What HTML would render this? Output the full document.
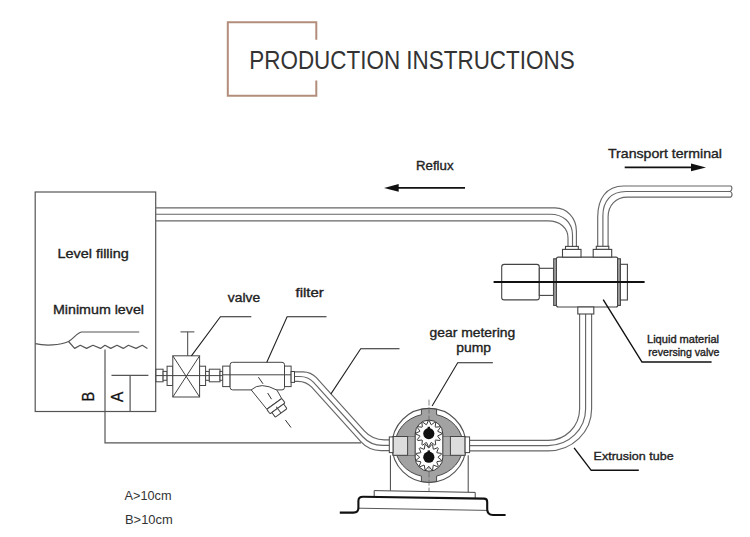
<!DOCTYPE html>
<html><head><meta charset="utf-8"><title>Production Instructions</title>
<style>
html,body{margin:0;padding:0;background:#fff;width:750px;height:537px;overflow:hidden}
svg{display:block}
text{font-family:"Liberation Sans",sans-serif}
</style></head>
<body>
<svg width="750" height="537" viewBox="0 0 750 537">
<rect width="750" height="537" fill="#fff"/>
<!-- title bracket -->
<path d="M316.3,39.8 V22.3 H227.8 V95.7 H316.3 V80.4" fill="none" stroke="#b38d7b" stroke-width="2"/>
<text x="249.3" y="69.3" font-size="25" fill="#333" textLength="325.3" lengthAdjust="spacingAndGlyphs">PRODUCTION INSTRUCTIONS</text>

<!-- labels -->
<g fill="#222" stroke="#222" stroke-width="0.35">
<text x="416" y="170.1" font-size="12.5" textLength="37.5" lengthAdjust="spacingAndGlyphs">Reflux</text>
<text x="608" y="158.3" font-size="13.3" textLength="114" lengthAdjust="spacingAndGlyphs">Transport terminal</text>
<text x="57.5" y="257.7" font-size="13" textLength="71.3" lengthAdjust="spacingAndGlyphs">Level filling</text>
<text x="53" y="313.5" font-size="13.5" textLength="91" lengthAdjust="spacingAndGlyphs">Minimum level</text>
<text x="227.8" y="301.7" font-size="12.5" textLength="32.3" lengthAdjust="spacingAndGlyphs">valve</text>
<text x="295.5" y="297.3" font-size="12.5" textLength="28.3" lengthAdjust="spacingAndGlyphs">filter</text>
<text x="429.6" y="337" font-size="12.5" textLength="85.6" lengthAdjust="spacingAndGlyphs">gear metering</text>
<text x="456.2" y="352.3" font-size="12.5" textLength="34.8" lengthAdjust="spacingAndGlyphs">pump</text>
<text x="647" y="343.3" font-size="10.3" textLength="72" lengthAdjust="spacingAndGlyphs">Liquid material</text>
<text x="648.3" y="356" font-size="10.3" textLength="71.2" lengthAdjust="spacingAndGlyphs">reversing valve</text>
<text x="593.6" y="460.4" font-size="11.7" textLength="80" lengthAdjust="spacingAndGlyphs">Extrusion tube</text>
<text x="124.5" y="499.6" font-size="12.8" textLength="47" lengthAdjust="spacingAndGlyphs" fill="#333" stroke="none">A&gt;10cm</text>
<text x="125" y="523.6" font-size="12.8" textLength="47.7" lengthAdjust="spacingAndGlyphs" fill="#333" stroke="none">B&gt;10cm</text>
<text transform="translate(94.3,401.6) rotate(-90) scale(0.9,1)" font-size="16.2" fill="#111" stroke="#111" stroke-width="0.3">B</text>
<text transform="translate(122.5,401.9) rotate(-90) scale(0.92,1)" font-size="16.8" fill="#111" stroke="#111" stroke-width="0.3">A</text>
</g>

<!-- arrows -->
<g stroke="#111" stroke-width="1.8" fill="#111">
<line x1="397" y1="187.9" x2="465" y2="187.9"/>
<path d="M384,187.9 L398.7,184 L398.7,191.8 Z" stroke="none"/>
<line x1="624.7" y1="167.4" x2="693" y2="167.4"/>
<path d="M706,167.4 L691,163.6 L691,171.3 Z" stroke="none"/>
</g>

<!-- tank -->
<g fill="none" stroke="#555" stroke-width="1.2">
<rect x="35.2" y="192" width="120.5" height="219.5"/>
<path d="M35.2,343.7 C45,346 60,345.5 68.6,341.5 C74,338 77,333 81.5,332 H139.2"/>
<path d="M68.6,341.5 L74.6,348.4 L80.3,345.3 L86.6,348.4 L92.9,345.3 L100.5,348.4 L105,345.3 L110.7,348.4 L117,345.3 L123.3,348.4 L128.4,345.3 L136,348.4 L142.3,345.3 L147.4,348.4" stroke-linejoin="round"/>
<path d="M105,349.5 V442.8 H361"/>
<path d="M111.5,375.4 H148.4 M130.1,375.4 V411.5"/>
</g>

<!-- top pipe from tank to valve -->
<g fill="none" stroke="#666" stroke-width="1.15">
<path d="M155.7,207.9 H555 C567,207.9 576.4,218 576.4,231 V246.4"/>
<path d="M155.7,214.2 H550 C563,214.2 572.5,222 572.5,235 V246.4"/>
<path d="M155.7,220.9 H548 C560,220.9 568,228 568,238 V246.4"/>
<!-- transport terminal pipe -->
<path d="M597.7,246.2 V217 C597.7,199 606,186 623.7,186 H731"/>
<path d="M602.9,246.2 V215.7 C602.9,201 611,191.5 626,191.5 H730"/>
<path d="M608.1,246.2 V217 C608.1,205 616,197.1 627.4,197.1 H731"/>
<path d="M731,186 C732.4,187.6 732.2,189.9 730.3,191.4 C732.2,192.9 732.4,195.2 731,197.1"/>
<!-- pipe valve bottom to pump -->
<path d="M579.6,314 V409 A31.5,31.5 0 0 1 548,440.4 H470"/>
<path d="M585.6,314 V409 A37.5,36.6 0 0 1 548,445.6 H470"/>
<path d="M591.6,314 V409 A43.6,41.9 0 0 1 548,450.9 H470"/>
<!-- filter to pump pipe -->
<path d="M294.5,371.8 H303 Q311,371.8 316.4,377.7 L364.3,430.9 Q372.3,439.8 384.3,439.8 H389.3"/>
<path d="M294.5,376.5 H300 Q308.2,376.5 313.6,382.4 L362.5,436.5 Q370.6,445.4 382.6,445.4 H389.3"/>
<path d="M294.5,381.3 H298 Q306.3,381.3 311.7,387.2 L360.8,441.7 Q368.8,450.6 380.8,450.6 H389.3"/>
</g>

<!-- valve (reversing) -->
<g fill="#fff" stroke="#444" stroke-width="1.1">
<rect x="501.7" y="264.4" width="37.6" height="35.5" rx="2.5"/>
<rect x="539.3" y="268.3" width="14.2" height="27.1"/>
<rect x="553.7" y="258.8" width="2.8" height="46.6" fill="#aaa"/>
<rect x="556.4" y="257.1" width="61.5" height="49.9" rx="2"/>
<rect x="617.6" y="258.8" width="2.8" height="46.6" fill="#aaa"/>
<rect x="620.4" y="264.3" width="7" height="35.7"/>
<rect x="562.5" y="249.4" width="18.5" height="7.7"/>
<rect x="565.5" y="246.4" width="12.8" height="3"/>
<rect x="593.2" y="249.4" width="18.5" height="7.7"/>
<rect x="596.3" y="246.3" width="12.5" height="3"/>
<rect x="577.8" y="307" width="16" height="7"/>
</g>
<line x1="493.6" y1="282" x2="644.6" y2="282" stroke="#111" stroke-width="2"/>
<path d="M603.2,299.6 L642,362 H711.6" fill="none" stroke="#111" stroke-width="1.4"/>
<path d="M574.1,447.8 L591.2,470.3 H638.8" fill="none" stroke="#111" stroke-width="1.4"/>

<!-- valve (manual) -->
<g fill="#fff" stroke="#444" stroke-width="1">
<rect x="156" y="369.2" width="7.1" height="12.6"/>
<rect x="163.1" y="371.4" width="4" height="8.9"/>
<rect x="167.1" y="366.2" width="5.7" height="19.3"/>
<rect x="172.8" y="355.8" width="26.8" height="41.2"/>
<path d="M172.8,355.8 L199.6,397 M199.6,355.8 L172.8,397" fill="none"/>
<rect x="199.6" y="366.2" width="6" height="19.3"/>
<rect x="205.6" y="371.4" width="3.7" height="8.9"/>
<rect x="209.3" y="369.2" width="10.7" height="12.6"/>
<rect x="220" y="371.4" width="3" height="8.9"/>
<path d="M187.7,355.8 V331.9 M180.5,331.9 H194.4 M156,375.6 H222.7" fill="none"/>
</g>
<path d="M191.4,355.8 L220.4,316.7 H251.3" fill="none" stroke="#222" stroke-width="1.1"/>

<!-- filter -->
<g fill="#fff" stroke="#444" stroke-width="1">
<rect x="222.7" y="366.1" width="7.4" height="20.5"/>
<rect x="230.1" y="362.3" width="54.4" height="27.6" rx="2.5"/>
<rect x="284.5" y="366.1" width="6.6" height="20.5"/>
<rect x="291.1" y="371.5" width="3.4" height="10.9"/>
<line x1="222.7" y1="374.8" x2="291.1" y2="374.8"/>
<path d="M251.2,389.9 Q260.5,381.2 276.9,390.1 L281.7,398.5 L266.8,409.2 Z"/>
<g transform="translate(274.25,403.85) rotate(-36)">
<rect x="-9.3" y="0" width="18.6" height="5.6" rx="1"/>
<rect x="-7" y="5.6" width="14.5" height="5.8" rx="1"/>
<line x1="0" y1="3.5" x2="0" y2="11.4"/>
</g>
</g>
<path d="M258.4,377.2 L263,383.8 M267.7,393 L271.5,399.2 M285.4,420 L291,427.5" stroke="#333" stroke-width="1" fill="none"/>
<path d="M266.8,362.3 L287.1,316.7 H326.5" fill="none" stroke="#222" stroke-width="1.1"/>

<!-- pump -->
<path d="M330.8,394.1 L360.7,348.8 H399.5" fill="none" stroke="#222" stroke-width="1.1"/>
<path d="M432.1,406 L457.7,362.7 H492.9" fill="none" stroke="#222" stroke-width="1.1"/>
<g>
<circle cx="429" cy="445.4" r="37" fill="#fff" stroke="#555" stroke-width="1.1"/>
<path d="M421.4,414.70 L421.4,409.19 A37,37 0 0 1 436.6,409.19 L436.6,414.70 A34,31.5 0 0 1 436.6,476.10 L436.6,481.61 A37,37 0 0 1 421.4,481.61 L421.4,476.10 A34,31.5 0 0 1 421.4,414.70 Z" fill="#a2a2a2" stroke="#3a3a3a" stroke-width="0.9"/>
<rect x="393" y="436.5" width="72" height="18.8" fill="#b0b0b0" stroke="#555" stroke-width="0.6"/>
<rect x="415.2" y="420.1" width="27.6" height="51.1" rx="13.8" fill="#fff" stroke="#333" stroke-width="1"/>
<rect x="393" y="436.5" width="14.6" height="18.8" fill="#ddd" stroke="#444" stroke-width="1"/>
<rect x="450.4" y="436.5" width="14.7" height="18.8" fill="#ddd" stroke="#444" stroke-width="1"/>
<rect x="389.3" y="436.9" width="3.7" height="15.7" fill="#fff" stroke="#444" stroke-width="1"/>
<rect x="465.1" y="436.9" width="4.5" height="15.7" fill="#fff" stroke="#444" stroke-width="1"/>
<line x1="429" y1="399.6" x2="429" y2="494" stroke="#666" stroke-width="0.8" stroke-dasharray="6,2"/>
</g>
<g id="gears" fill="#fff" stroke="#222" stroke-width="0.9" stroke-linejoin="round">
<path d="M426.63,424.56 L428.32,420.61 L429.28,420.61 L430.97,424.56 L431.44,424.68 L434.88,422.11 L435.71,422.59 L435.20,426.85 L435.55,427.20 L439.81,426.69 L440.29,427.52 L437.72,430.96 L437.84,431.43 L441.79,433.12 L441.79,434.08 L437.84,435.77 L437.72,436.24 L440.29,439.68 L439.81,440.51 L435.55,440.00 L435.20,440.35 L435.71,444.61 L434.88,445.09 L431.44,442.52 L430.97,442.64 L429.28,446.59 L428.32,446.59 L426.63,442.64 L426.16,442.52 L422.72,445.09 L421.89,444.61 L422.40,440.35 L422.05,440.00 L417.79,440.51 L417.31,439.68 L419.88,436.24 L419.76,435.77 L415.81,434.08 L415.81,433.12 L419.76,431.43 L419.88,430.96 L417.31,427.52 L417.79,426.69 L422.05,427.20 L422.40,426.85 L421.89,422.59 L422.72,422.11 L426.16,424.68 Z"/>
<path d="M429.04,447.90 L431.70,444.53 L432.62,444.77 L433.24,449.03 L433.66,449.27 L437.65,447.68 L438.32,448.35 L436.73,452.34 L436.97,452.76 L441.23,453.38 L441.47,454.30 L438.10,456.96 L438.10,457.44 L441.47,460.10 L441.23,461.02 L436.97,461.64 L436.73,462.06 L438.32,466.05 L437.65,466.72 L433.66,465.13 L433.24,465.37 L432.62,469.63 L431.70,469.87 L429.04,466.50 L428.56,466.50 L425.90,469.87 L424.98,469.63 L424.36,465.37 L423.94,465.13 L419.95,466.72 L419.28,466.05 L420.87,462.06 L420.63,461.64 L416.37,461.02 L416.13,460.10 L419.50,457.44 L419.50,456.96 L416.13,454.30 L416.37,453.38 L420.63,452.76 L420.87,452.34 L419.28,448.35 L419.95,447.68 L423.94,449.27 L424.36,449.03 L424.98,444.77 L425.90,444.53 L428.56,447.90 Z"/>
</g>
<g fill="#111"><circle cx="428.8" cy="433.6" r="5.6"/><rect x="427.6" y="426.8" width="2.4" height="2"/><circle cx="428.8" cy="457.2" r="5.6"/><rect x="427.6" y="450.4" width="2.4" height="2"/></g>
<!-- stand -->
<g fill="none" stroke="#444" stroke-width="1">
<path d="M390.4,455.3 V490.9 M468.2,455.3 V492.2"/>
<path d="M374.2,496.6 V490.6 L475.2,492.4 V498.4" fill="#fff"/>
<path d="M358.4,508.2 L487.2,510.4" stroke="#555"/>
</g>
<path d="M339.8,512.6 H353.5 C357,512.6 358.4,511 358.4,508 V501 C358.4,498.2 359.8,496.7 363,496.7 L484,498.6 C486.3,498.6 487.2,499.6 487.2,502 V509 C487.2,513 489.5,515 493,515 H505.6" fill="none" stroke="#111" stroke-width="2.1"/>
</svg>
</body></html>
